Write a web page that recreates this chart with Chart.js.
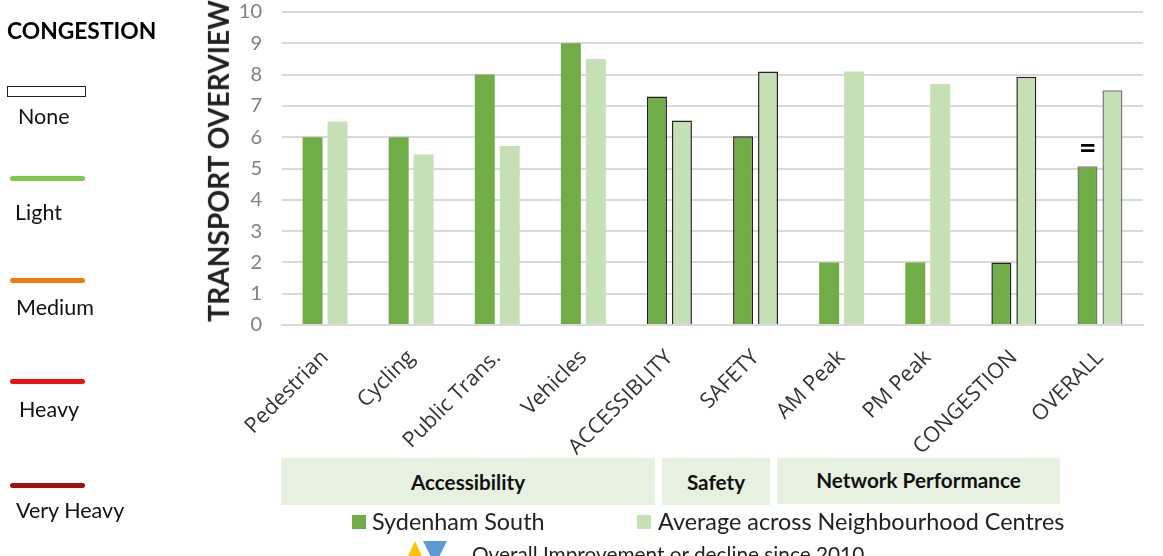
<!DOCTYPE html>
<html>
<head>
<meta charset="utf-8">
<script src="https://cdn.jsdelivr.net/npm/chart.js@4"></script>
<style>
html, body { margin: 0; padding: 0; background: #fff; overflow: hidden; }
#wrap { position: relative; width: 1163px; height: 556px; overflow: hidden; font-family: Lato, sans-serif; color: #000; }
#wrap canvas { position: absolute; left: 0; top: 0; }
.t { position: absolute; white-space: nowrap; line-height: 1; }
.key { font-size: 21.5px; color: #111; }
.ln { position: absolute; left: 10px; width: 75px; height: 5px; border-radius: 3px; }
.band { position: absolute; background: #e7f1e0; text-align: center; font-weight: bold; font-size: 20.7px; color: #111; }
.sw { position: absolute; width: 14px; height: 14px; top: 515px; }
.leg { font-size: 23.4px; color: #222; }
</style>
</head>
<body>
<div id="wrap">
  <canvas id="overview" width="1163" height="556"></canvas>

  <div class="t" style="left:7px;top:19px;font-size:22.8px;font-weight:bold">CONGESTION</div>
  <div style="position:absolute;left:7px;top:86px;width:77px;height:9px;border:1px solid #222;background:#fff"></div>
  <div class="t key" style="left:18px;top:106px">None</div>
  <div class="ln" style="top:176px;background:#7ec850"></div>
  <div class="t key" style="left:15px;top:202px">Light</div>
  <div class="ln" style="top:278px;background:#f07c0c"></div>
  <div class="t key" style="left:16px;top:297px">Medium</div>
  <div class="ln" style="top:379px;background:#ee1111"></div>
  <div class="t key" style="left:19px;top:399px">Heavy</div>
  <div class="ln" style="top:483px;background:#a01212"></div>
  <div class="t key" style="left:16px;top:500px">Very Heavy</div>

  <div class="t" style="left:218px;top:161px;font-size:28.2px;font-weight:bold;color:#222;transform:translate(-50%,-50%) rotate(-90deg)">TRANSPORT OVERVIEW</div>

  <div class="t" style="left:1079px;top:131px;font-size:30px;font-weight:bold">=</div>

  <div class="band" style="left:281px;top:458px;width:374px;height:47px;line-height:48px">Accessibility</div>
  <div class="band" style="left:662px;top:458px;width:108px;height:47px;line-height:48px">Safety</div>
  <div class="band" style="left:777px;top:458px;width:283px;height:46px;line-height:44px">Network Performance</div>

  <div class="sw" style="left:352px;background:#70ad47"></div>
  <div class="t leg" style="left:372px;top:510px">Sydenham South</div>
  <div class="sw" style="left:637px;background:#c5e0b4"></div>
  <div class="t leg" style="left:658px;top:510px">Average across Neighbourhood Centres</div>

  <div style="position:absolute;left:404px;top:541px;width:22px;height:24px;background:#ffc000;clip-path:polygon(50% 0,100% 100%,0 100%)"></div>
  <div style="position:absolute;left:423px;top:541px;width:24px;height:24px;background:#5b9bd5;clip-path:polygon(0 0,100% 0,50% 100%)"></div>
  <div class="t" style="left:472px;top:544px;font-size:20.8px;color:#222">Overall Improvement or decline since 2010</div>
</div>

<script>
var categories = ['Pedestrian', 'Cycling', 'Public Trans.', 'Vehicles', 'ACCESSIBLITY', 'SAFETY', 'AM Peak', 'PM Peak', 'CONGESTION', 'OVERALL'];
var sydenhamValues = [6, 6, 8, 9, 7.3, 6.03, 2, 2, 2, 5.07];
var averageValues = [6.5, 5.45, 5.72, 8.5, 6.53, 8.1, 8.1, 7.7, 7.93, 7.5];
var yTicks = [0, 1, 2, 3, 4, 5, 6, 7, 8, 9, 10];
var seriesNames = ['Sydenham South', 'Average across Neighbourhood Centres'];

// only the summary bars get an outline
var outlineColors = ['transparent', 'transparent', 'transparent', 'transparent', '#222', '#222', 'transparent', 'transparent', '#222', '#777'];
var outlineWidths = [0, 0, 0, 0, 1.5, 1.5, 0, 0, 1.5, 1.5];

new Chart(document.getElementById('overview'), {
    type: 'bar',
    data: {
        labels: categories,
        datasets: [
            {
                label: seriesNames[0],
                backgroundColor: '#70ad47',
                borderColor: outlineColors,
                borderWidth: outlineWidths,
                data: sydenhamValues
            },
            {
                label: seriesNames[1],
                backgroundColor: '#c5e0b4',
                borderColor: outlineColors,
                borderWidth: outlineWidths,
                data: averageValues
            }
        ]
    },
    options: {
        responsive: false,
        animation: false,
        categoryPercentage: 0.58,
        barPercentage: 0.8,
        layout: { autoPadding: false, padding: { left: 0, right: 20, top: 12, bottom: 0 } },
        plugins: {
            legend: { display: false },
            tooltip: { enabled: false }
        },
        scales: {
            x: {
                grid: { display: false },
                border: { color: '#d9d9d9', width: 2 },
                ticks: {
                    minRotation: 45,
                    maxRotation: 45,
                    color: '#333',
                    padding: 12,
                    font: { family: 'Open Sans', size: 21.5 }
                },
                afterFit: function (scale) { scale.height = 231; }
            },
            y: {
                min: 0,
                max: 10,
                afterBuildTicks: function (scale) {
                    scale.ticks = yTicks.map(function (v) { return { value: v }; });
                },
                grid: { color: '#d9d9d9', lineWidth: 2, drawTicks: false },
                border: { display: false },
                ticks: {
                    color: '#808080',
                    padding: 20,
                    font: { family: 'Lato', size: 20 }
                },
                afterFit: function (scale) {
                    scale.width = 282;
                    scale.paddingTop = 0;
                    scale.paddingBottom = 0;
                }
            }
        }
    }
});
</script>
</body>
</html>
